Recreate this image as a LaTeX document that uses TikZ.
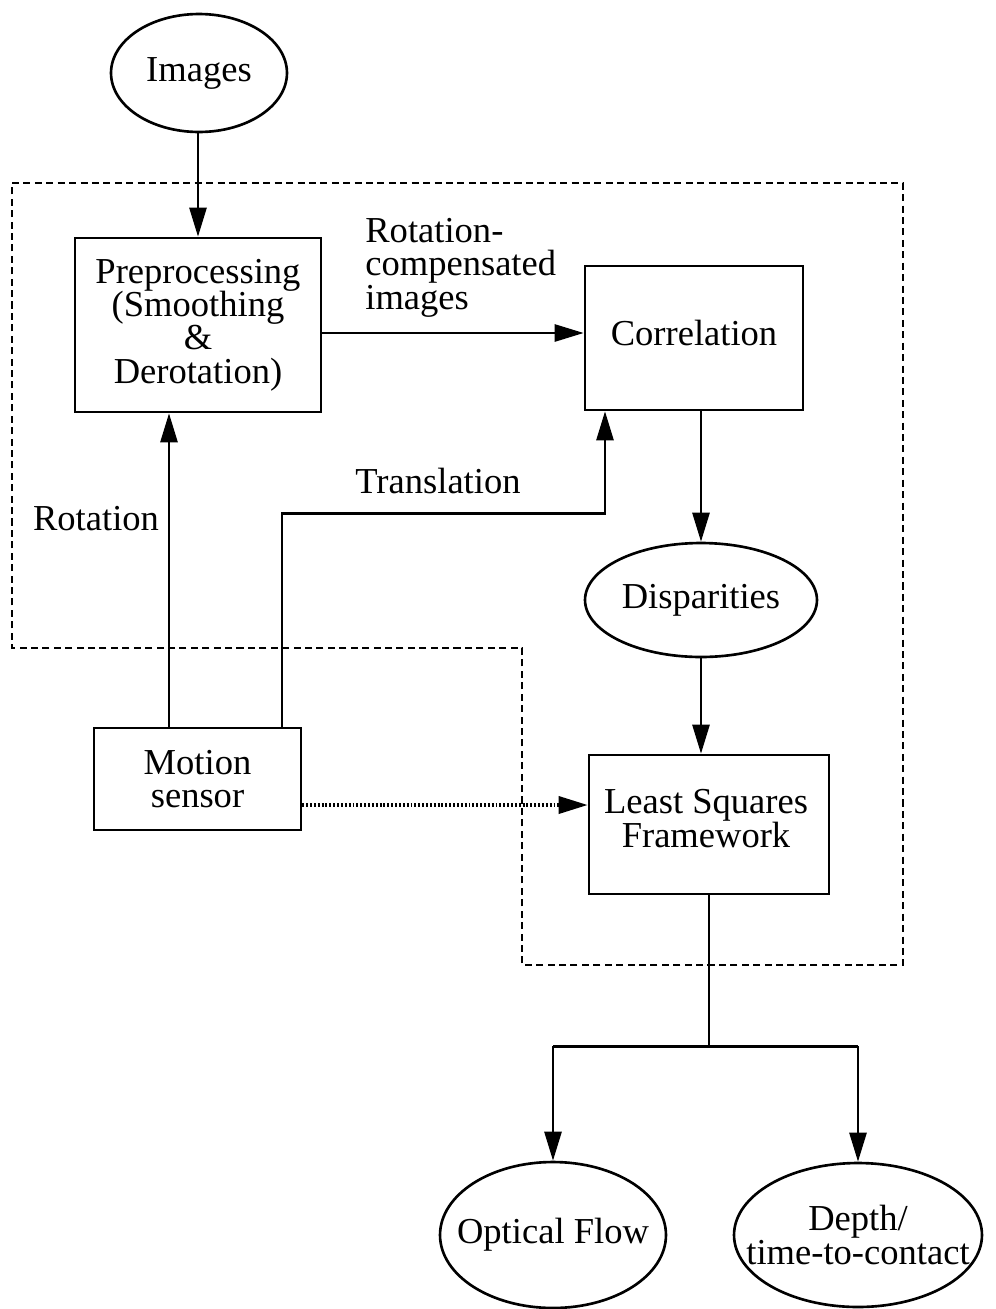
\documentclass[tikz,border=0pt]{standalone}
\usepackage{fontspec}
\setmainfont{Liberation Serif}
\usetikzlibrary{arrows.meta,calc,shapes.geometric}
\begin{document}
\begin{tikzpicture}[x=0.02cm,y=-0.02cm,
  font=\fontsize{20.8}{19}\selectfont,
  lw/.style={line width=1.5pt},
  boxnode/.style={draw,lw,rectangle,inner sep=0pt,align=center},
  ellnode/.style={draw,lw,ellipse,inner sep=0pt},
  txt/.style={inner sep=0pt,align=center},
  arr/.style={lw,-{Triangle[length=0.58cm,width=0.34cm]}},
  dotarr/.style={line width=2pt,dash pattern=on 1.1pt off 1.1pt,-{Triangle[length=0.58cm,width=0.34cm]}},
  region/.style={line width=1.5pt,dash pattern=on 4pt off 2.5pt}
]
\useasboundingbox (0,0) rectangle (996,1309);

% dashed region
\draw[region] (12,183) -- (903,183) -- (903,965) -- (522,965) -- (522,648) -- (12,648) -- cycle;

% nodes
\node[ellnode,minimum width=3.52cm,minimum height=2.36cm] (images) at (199,73) {};
\node[txt] at (images) {Images};
\node[boxnode,minimum width=4.92cm,minimum height=3.48cm] (prep) at (198,325)
  {Preprocessing\\(Smoothing\\\&\\Derotation)};
\node[boxnode,minimum width=4.36cm,minimum height=2.88cm] (corr) at (694,338) {};
\node[txt] at ($(corr)+(0,-5)$) {Correlation};
\node[ellnode,minimum width=4.64cm,minimum height=2.28cm] (disp) at (701,600) {};
\node[txt] at (disp) {Disparities};
\node[boxnode,minimum width=4.14cm,minimum height=2.04cm] (motion) at (197.5,779) {Motion\\sensor};
\node[boxnode,minimum width=4.8cm,minimum height=2.78cm] (ls) at (709,824.5) {};
\node[txt] at ($(ls)+(-3,-6)$) {Least Squares\\Framework};
\node[ellnode,minimum width=4.52cm,minimum height=2.92cm] (of) at (553,1235) {};
\node[txt] at (of) {Optical Flow};
\node[ellnode,minimum width=4.96cm,minimum height=2.88cm] (depth) at (858,1235) {};
\node[txt] at (depth) {Depth/\\time-to-contact};

% labels
\node[txt,align=left,anchor=north west] (lrc) at (365,218) {Rotation-\\compensated\\images};
\node[txt,anchor=base] (ltr) at (438,493) {Translation};
\node[txt,anchor=base] (lrot) at (96,530) {Rotation};

% connectors
\draw[arr] (images.south -| prep.north) -- (prep.north);
\path ($(prep.east)+(0,8)$) coordinate (pe);
\draw[arr] (pe) -- (pe -| corr.west);
\path ($(motion.north)+(-28.5,0)$) coordinate (mr);
\draw[arr] (mr) -- (mr |- prep.south);
\path ($(motion.north)+(84.5,0)$) coordinate (mt);
\path ($(corr.south)+(-89,0)$) coordinate (ct);
\draw[arr] (mt) -- ++(0,-213) -| (ct);
\draw[arr] (corr.south -| disp.north) -- (disp.north);
\draw[arr] (disp.south) -- (disp.south |- ls.north);
\path ($(motion.east)+(0,26)$) coordinate (md);
\draw[dotarr] (md) -- (md -| ls.west);
\draw[lw] (ls.south) -- ++(0,151) coordinate (j);
\draw[lw] (of.north |- j) -- (depth.north |- j);
\draw[arr] (of.north |- j) -- (of.north);
\draw[arr] (depth.north |- j) -- (depth.north);
\end{tikzpicture}
\end{document}
